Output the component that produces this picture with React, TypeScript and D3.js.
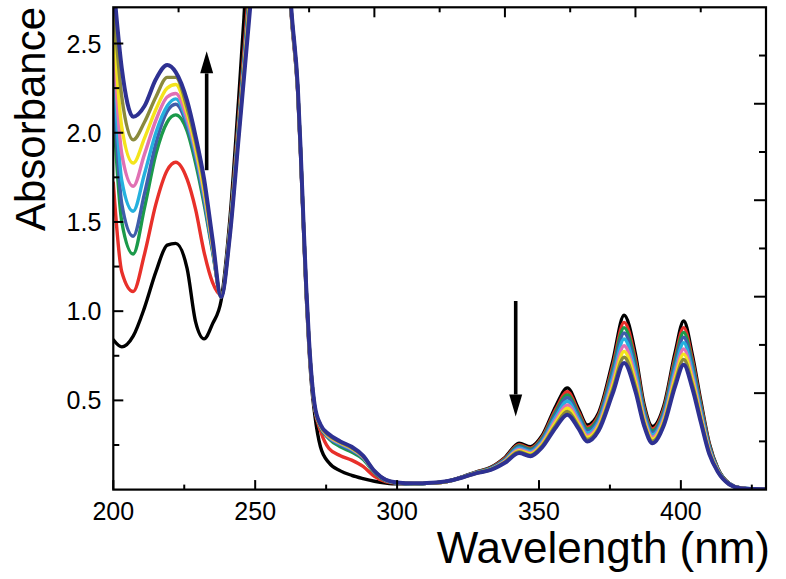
import React from 'react';
import * as d3 from 'd3';

const WL = [200, 203, 207, 211, 215, 219, 222, 226, 229, 232, 235, 238, 241, 244, 247, 250, 256, 261, 263, 265, 266, 267, 268, 269, 270, 271, 273, 276, 280, 284, 288, 292, 296, 300, 306, 312, 318, 323, 328, 333, 338, 343, 347, 351, 356, 360, 364, 367, 371, 376, 380, 384, 387, 390, 394, 398, 401, 404, 407, 410, 413, 417, 421, 426, 430];

const BLACK = [0.84, 0.80, 0.86, 1.02, 1.22, 1.37, 1.38, 1.24, 0.94, 0.845, 0.93, 1.06, 1.50, 2.15, 2.85, 3.30, 3.60, 3.00, 2.60, 2.22, 1.87, 1.47, 1.08, 0.78, 0.56, 0.42, 0.24, 0.15, 0.105, 0.08, 0.062, 0.047, 0.037, 0.032, 0.032, 0.036, 0.048, 0.072, 0.10, 0.125, 0.18, 0.26, 0.24, 0.30, 0.47, 0.57, 0.45, 0.363, 0.43, 0.72, 0.977, 0.76, 0.48, 0.354, 0.47, 0.77, 0.945, 0.76, 0.50, 0.26, 0.12, 0.035, 0.01, 0.004, 0.003];
const RED = [1.72, 1.22, 1.11, 1.32, 1.60, 1.79, 1.835, 1.74, 1.57, 1.33, 1.16, 1.09, 1.46, 2.05, 2.65, 3.2, 3.6, 3.0, 2.61, 2.23, 1.88, 1.48, 1.10, 0.80, 0.59, 0.45, 0.33, 0.23, 0.19, 0.165, 0.13, 0.075, 0.045, 0.036, 0.033, 0.036, 0.047, 0.071, 0.098, 0.122, 0.175, 0.252, 0.232, 0.29, 0.452, 0.548, 0.434, 0.349, 0.415, 0.693, 0.937, 0.729, 0.462, 0.34, 0.454, 0.742, 0.908, 0.732, 0.482, 0.251, 0.117, 0.034, 0.01, 0.004, 0.003];
const GREEN = [2.15, 1.50, 1.32, 1.58, 1.88, 2.06, 2.10, 2.01, 1.83, 1.60, 1.33, 1.09, 1.45, 2.02, 2.60, 3.1, 3.6, 3.0, 2.62, 2.24, 1.89, 1.49, 1.11, 0.81, 0.60, 0.46, 0.35, 0.285, 0.24, 0.21, 0.17, 0.095, 0.05, 0.037, 0.033, 0.036, 0.047, 0.07, 0.097, 0.12, 0.17, 0.246, 0.226, 0.283, 0.439, 0.531, 0.421, 0.339, 0.404, 0.673, 0.908, 0.705, 0.449, 0.330, 0.441, 0.721, 0.881, 0.711, 0.469, 0.244, 0.115, 0.034, 0.01, 0.004, 0.003];
const BLUE = [2.30, 1.60, 1.42, 1.66, 1.94, 2.12, 2.16, 2.04, 1.86, 1.62, 1.34, 1.08, 1.44, 2.00, 2.58, 3.1, 3.6, 3.0, 2.62, 2.24, 1.89, 1.49, 1.11, 0.81, 0.60, 0.46, 0.355, 0.29, 0.25, 0.22, 0.178, 0.098, 0.052, 0.038, 0.033, 0.036, 0.046, 0.07, 0.096, 0.118, 0.167, 0.24, 0.22, 0.276, 0.426, 0.515, 0.409, 0.329, 0.393, 0.653, 0.878, 0.682, 0.436, 0.319, 0.429, 0.70, 0.854, 0.69, 0.456, 0.238, 0.113, 0.033, 0.009, 0.004, 0.003];
const CYAN = [2.42, 1.73, 1.56, 1.77, 2.00, 2.15, 2.19, 2.06, 1.88, 1.64, 1.35, 1.08, 1.44, 1.99, 2.56, 3.1, 3.6, 3.0, 2.62, 2.24, 1.89, 1.49, 1.11, 0.81, 0.60, 0.46, 0.355, 0.293, 0.255, 0.225, 0.18, 0.10, 0.053, 0.038, 0.033, 0.036, 0.046, 0.07, 0.095, 0.116, 0.163, 0.233, 0.214, 0.268, 0.41, 0.495, 0.395, 0.317, 0.38, 0.63, 0.844, 0.655, 0.42, 0.307, 0.415, 0.675, 0.823, 0.665, 0.44, 0.23, 0.11, 0.033, 0.009, 0.004, 0.003];
const PINK = [2.52, 1.88, 1.70, 1.88, 2.07, 2.20, 2.22, 2.08, 1.90, 1.66, 1.36, 1.08, 1.43, 1.98, 2.54, 3.1, 3.6, 3.0, 2.62, 2.24, 1.89, 1.49, 1.11, 0.81, 0.60, 0.46, 0.357, 0.296, 0.26, 0.228, 0.183, 0.10, 0.054, 0.039, 0.034, 0.036, 0.046, 0.069, 0.094, 0.114, 0.16, 0.225, 0.206, 0.258, 0.393, 0.474, 0.38, 0.303, 0.366, 0.605, 0.806, 0.626, 0.403, 0.294, 0.40, 0.648, 0.788, 0.638, 0.423, 0.222, 0.107, 0.032, 0.009, 0.003, 0.002];
const YELLOW = [2.64, 2.03, 1.83, 1.97, 2.13, 2.25, 2.27, 2.11, 1.92, 1.68, 1.37, 1.08, 1.43, 1.97, 2.53, 3.1, 3.6, 3.0, 2.62, 2.24, 1.89, 1.49, 1.11, 0.81, 0.60, 0.46, 0.358, 0.30, 0.263, 0.231, 0.186, 0.102, 0.054, 0.039, 0.034, 0.036, 0.046, 0.069, 0.093, 0.113, 0.157, 0.218, 0.20, 0.251, 0.379, 0.456, 0.366, 0.292, 0.354, 0.583, 0.774, 0.60, 0.389, 0.283, 0.386, 0.626, 0.759, 0.616, 0.409, 0.214, 0.105, 0.031, 0.008, 0.003, 0.002];
const OLIVE = [2.74, 2.20, 1.96, 2.06, 2.20, 2.31, 2.31, 2.14, 1.95, 1.71, 1.38, 1.08, 1.42, 1.96, 2.51, 3.1, 3.6, 3.0, 2.63, 2.25, 1.90, 1.50, 1.12, 0.82, 0.60, 0.46, 0.36, 0.303, 0.266, 0.234, 0.188, 0.103, 0.055, 0.04, 0.034, 0.037, 0.047, 0.068, 0.093, 0.112, 0.154, 0.212, 0.193, 0.243, 0.364, 0.438, 0.353, 0.281, 0.342, 0.562, 0.742, 0.575, 0.374, 0.271, 0.373, 0.602, 0.729, 0.593, 0.394, 0.207, 0.102, 0.031, 0.008, 0.003, 0.002];
const NAVY = [2.85, 2.36, 2.09, 2.15, 2.30, 2.38, 2.34, 2.18, 1.98, 1.74, 1.40, 1.08, 1.41, 1.94, 2.48, 3.0, 3.6, 3.05, 2.64, 2.26, 1.91, 1.51, 1.13, 0.83, 0.61, 0.47, 0.365, 0.31, 0.27, 0.24, 0.19, 0.105, 0.055, 0.04, 0.035, 0.038, 0.048, 0.068, 0.092, 0.11, 0.15, 0.205, 0.187, 0.235, 0.35, 0.42, 0.34, 0.27, 0.33, 0.54, 0.71, 0.55, 0.36, 0.26, 0.36, 0.58, 0.70, 0.57, 0.38, 0.20, 0.10, 0.03, 0.008, 0.003, 0.002];

const SERIES = [BLACK, RED, GREEN, BLUE, CYAN, PINK, YELLOW, OLIVE, NAVY];
const COLORS = ['#000000', '#E8302A', '#1B9A4A', '#3F5DAA', '#25B1DE', '#E071B4', '#F4E41C', '#8A8A3C', '#2E3192'];

const X_MAJOR = [200, 250, 300, 350, 400];
const X_MINOR = [225, 275, 325, 375, 425];
const Y_MAJOR = [0.5, 1.0, 1.5, 2.0, 2.5];
const Y_MINOR = [0.25, 0.75, 1.25, 1.75, 2.25];
const AUX_TICKS = [1, 2, 3, 4, 5, 6, 7, 8, 9];

// arrows: [wavelength, start absorbance, end absorbance]
const ARROWS = [
  [232.9, 1.79, 2.456],
  [341.8, 1.057, 0.41],
];

const W = 786;
const H = 579;
const L = 113.3, R = 766, T = 7.3, B = 489.6;
const FONT = '"Liberation Sans", Arial, sans-serif';

export default function App() {
  const x = d3.scaleLinear().domain([200, 430]).range([L, R]);
  const y = d3.scaleLinear().domain([0, 2.703]).range([B, T]);
  const xTop = d3.scaleLinear().domain([0, 10]).range([L, R]);
  const yRight = d3.scaleLinear().domain([0, 10]).range([B, T]);

  const line = d3
    .line<number>()
    .x((_, i) => x(WL[i]))
    .y((d) => y(d))
    .curve(d3.curveMonotoneX);

  const fmt = d3.format('.1f');

  return (
    <svg width={W} height={H} style={{ position: 'absolute', left: 0, top: 0, background: '#fff' }} fontFamily={FONT}>
      <defs>
        <clipPath id="plotclip">
          <rect x={L} y={T} width={R - L} height={B - T} />
        </clipPath>
      </defs>
      <rect x={0} y={0} width={W} height={H} fill="#fff" />
      <g clipPath="url(#plotclip)">
        {SERIES.map((s, i) => (
          <path
            key={i}
            d={line(s) || ''}
            fill="none"
            stroke={COLORS[i]}
            strokeWidth={i === SERIES.length - 1 ? 4 : 3.4}
            strokeLinejoin="round"
            strokeLinecap="round"
          />
        ))}
      </g>
      {ARROWS.map((a, i) => {
        const ax = x(a[0]);
        const y0 = y(a[1]);
        const y1 = y(a[2]);
        const dir = y1 < y0 ? -1 : 1;
        const headLen = 22;
        const headW = 6.5;
        const baseY = y1 - dir * headLen;
        return (
          <g key={i}>
            <line x1={ax} x2={ax} y1={y0} y2={baseY} stroke="#000" strokeWidth={3.6} />
            <path d={`M${ax},${y1} L${ax - headW},${baseY} L${ax + headW},${baseY} Z`} fill="#000" />
          </g>
        );
      })}
      {X_MAJOR.map((v) => (
        <line key={'xm' + v} x1={x(v)} x2={x(v)} y1={B} y2={B - 9.5} stroke="#000" strokeWidth={2} />
      ))}
      {X_MINOR.map((v) => (
        <line key={'xn' + v} x1={x(v)} x2={x(v)} y1={B} y2={B - 5} stroke="#000" strokeWidth={2} />
      ))}
      {X_MAJOR.map((v) => (
        <text key={'xl' + v} x={x(v)} y={B + 30} fontSize={25} textAnchor="middle" fill="#000">
          {v}
        </text>
      ))}
      {Y_MAJOR.map((v) => (
        <line key={'ym' + v} x1={L} x2={L + 10} y1={y(v)} y2={y(v)} stroke="#000" strokeWidth={2} />
      ))}
      {Y_MINOR.map((v) => (
        <line key={'yn' + v} x1={L} x2={L + 6} y1={y(v)} y2={y(v)} stroke="#000" strokeWidth={2} />
      ))}
      {Y_MAJOR.map((v) => (
        <text key={'yl' + v} x={L - 12} y={y(v)} dy="0.36em" fontSize={25} textAnchor="end" fill="#000">
          {fmt(v)}
        </text>
      ))}
      {AUX_TICKS.map((k) => (
        <line key={'tt' + k} x1={xTop(k)} x2={xTop(k)} y1={T} y2={T + (k % 2 === 0 ? 10 : 5)} stroke="#000" strokeWidth={2} />
      ))}
      {AUX_TICKS.map((k) => (
        <line key={'rt' + k} x1={R} x2={R - (k % 2 === 0 ? 12 : 7)} y1={yRight(k)} y2={yRight(k)} stroke="#000" strokeWidth={2} />
      ))}
      <rect x={L} y={T} width={R - L} height={B - T} fill="none" stroke="#000" strokeWidth={2.2} />
      <text x={770} y={563} fontSize={44} textAnchor="end" fill="#000">
        Wavelength (nm)
      </text>
      <text transform={`translate(45,119) rotate(-90)`} fontSize={42} textAnchor="middle" fill="#000">
        Absorbance
      </text>
    </svg>
  );
}
